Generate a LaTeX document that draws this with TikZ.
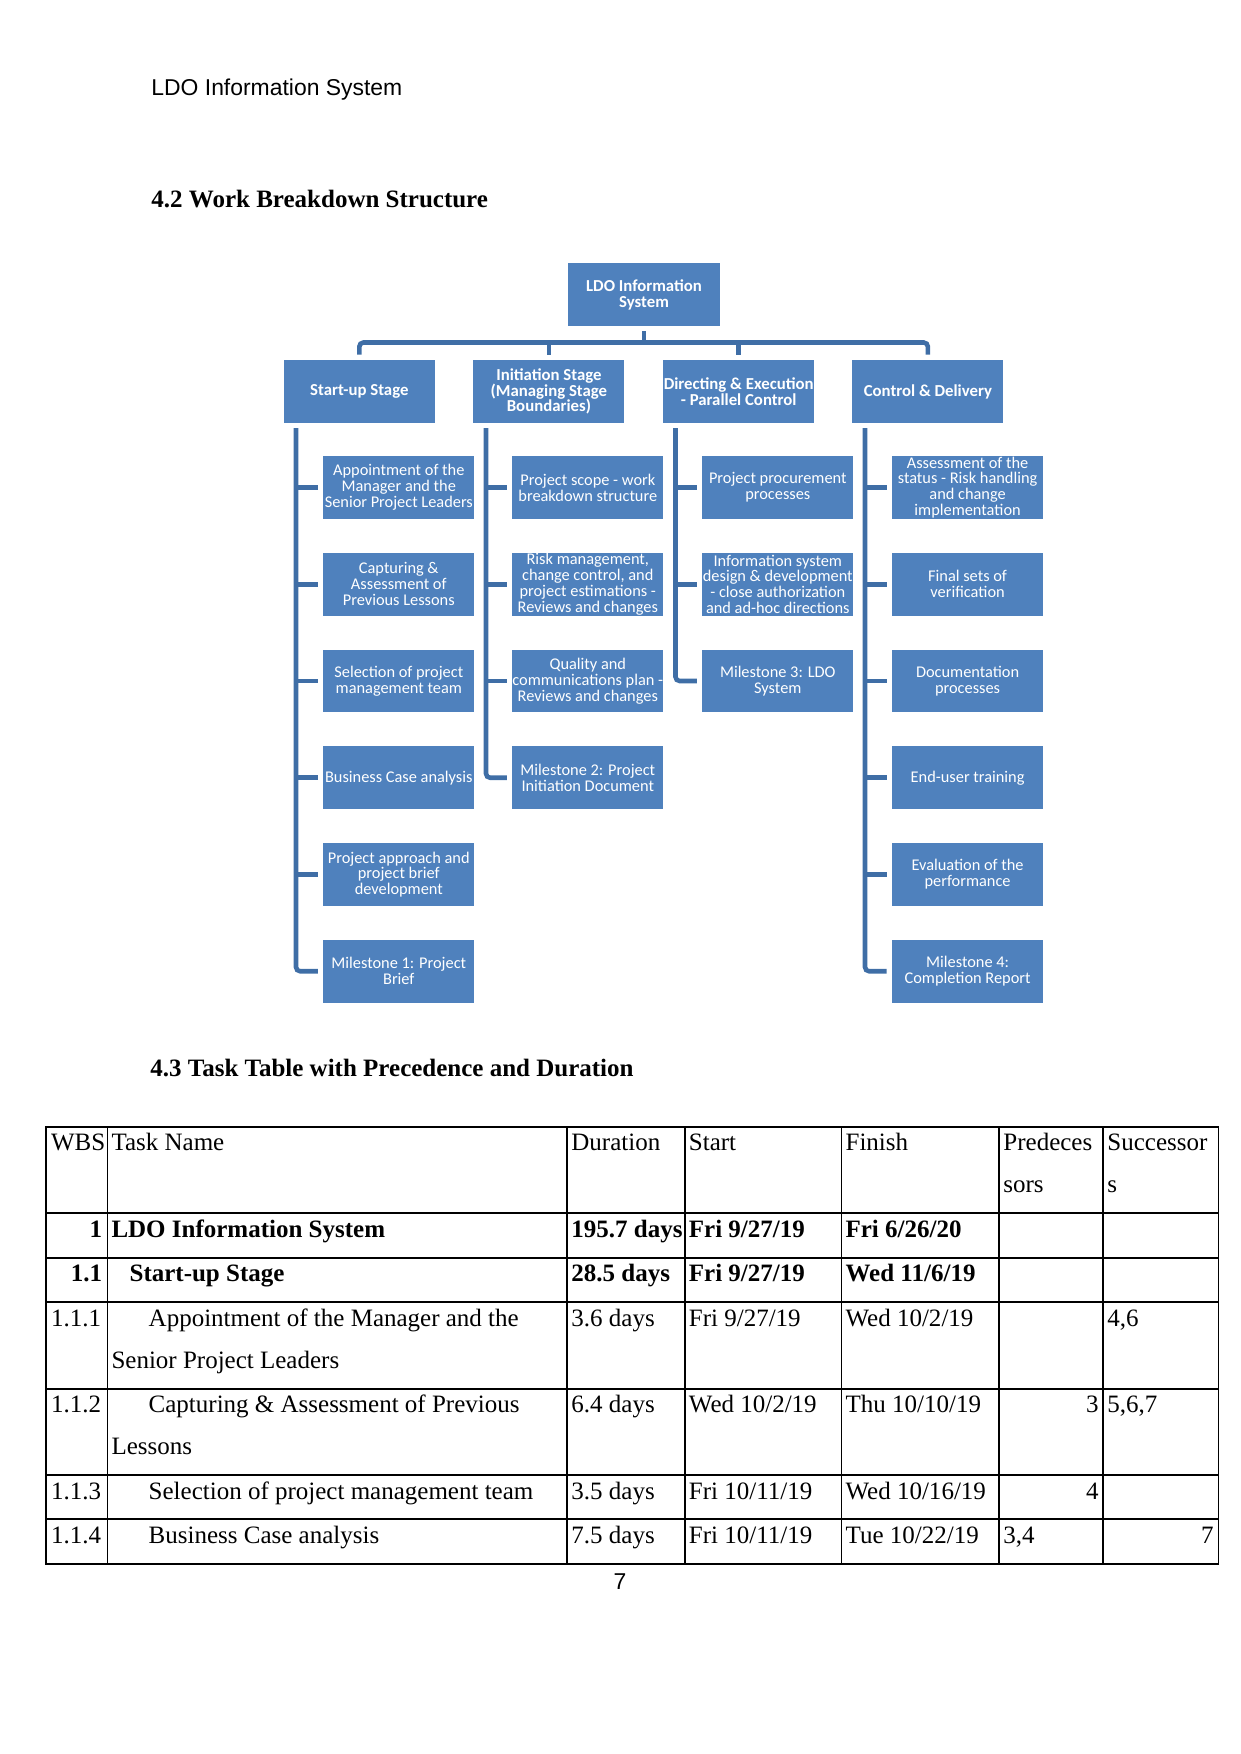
\documentclass[tikz,border=0pt]{standalone}
\usepackage{fontspec}
\setmainfont{Liberation Serif}
\newfontfamily\hdrsans{Liberation Sans}
\newfontfamily\boxfont{Carlito}
\definecolor{boxblue}{RGB}{79,129,189}
\definecolor{lineblue}{RGB}{63,110,166}
\begin{document}
\begin{tikzpicture}[x=0.48pt,y=-0.48pt,
 wbsbox/.style={fill=boxblue,text=white,inner sep=0pt,outer sep=2.64pt,minimum width=72.5pt,minimum height=30.2pt,align=center,font=\boxfont\fontsize{7.85}{7.6}\selectfont},
 stagebox/.style={wbsbox,font=\boxfont\bfseries\fontsize{8.05}{7.6}\selectfont},
 conn/.style={draw=lineblue,line width=2.2pt},
 cell/.style={anchor=base west,inner sep=0pt,font=\fontsize{12}{14}\selectfont},
 cellr/.style={anchor=base east,inner sep=0pt,font=\fontsize{12}{14}\selectfont},
 tabrule/.style={line width=0.85pt,line cap=rect}
]
\useasboundingbox (0,0) rectangle (1241,1754);

% page texts
\node[anchor=base west,inner sep=0pt,font=\hdrsans\fontsize{11}{13}\selectfont] (hdr) at (151,95) {LDO Information System};
\node[anchor=base west,inner sep=0pt,font=\bfseries\fontsize{12}{14}\selectfont] (h42) at (151,207.7) {4.2 Work Breakdown Structure};
\node[anchor=base west,inner sep=0pt,font=\bfseries\fontsize{12}{14}\selectfont] (h43) at (150,1076.7) {4.3 Task Table with Precedence and Duration};
\node[anchor=base,inner sep=0pt,font=\hdrsans\fontsize{11}{13}\selectfont] (pg) at (620,1589) {7};

% WBS boxes
\node[stagebox,minimum width=73pt] (root) at (644,294.5) {LDO Information\\System};
\node[stagebox] (s1) at (359.3,391.5) {Start-up Stage};
\node[stagebox] (s2) at (548.9,391.5) {Initiation Stage\\(Managing Stage\\Boundaries)};
\node[stagebox] (s3) at (738.7,391.5) {Directing \& Execution\\- Parallel Control};
\node[stagebox] (s4) at (927.9,391.5) {Control \& Delivery};

\node[wbsbox] (a1) at (398.8,487.5) {Appointment of the\\Manager and the\\Senior Project Leaders};
\node[wbsbox] (a2) at (398.8,584.25) {Capturing \&\\Assessment of\\Previous Lessons};
\node[wbsbox] (a3) at (398.8,681) {Selection of project\\management team};
\node[wbsbox] (a4) at (398.8,777.75) {Business Case analysis};
\node[wbsbox] (a5) at (398.8,874.5) {Project approach and\\project brief\\development};
\node[wbsbox] (a6) at (398.8,971.25) {Milestone 1: Project\\Brief};

\node[wbsbox] (b1) at (587.8,487.5) {Project scope - work\\breakdown structure};
\node[wbsbox] (b2) at (587.8,584.25) {Risk management,\\change control, and\\project estimations -\\Reviews and changes};
\node[wbsbox] (b3) at (587.8,681) {Quality and\\communications plan -\\Reviews and changes};
\node[wbsbox] (b4) at (587.8,777.75) {Milestone 2: Project\\Initiation Document};

\node[wbsbox] (c1) at (777.8,487.5) {Project procurement\\processes};
\node[wbsbox] (c2) at (777.8,584.25) {Information system\\design \& development\\- close authorization\\and ad-hoc directions};
\node[wbsbox] (c3) at (777.8,681) {Milestone 3: LDO\\System};

\node[wbsbox] (d1) at (967.6,487.5) {Assessment of the\\status - Risk handling\\and change\\implementation};
\node[wbsbox] (d2) at (967.6,584.25) {Final sets of\\verification};
\node[wbsbox] (d3) at (967.6,681) {Documentation\\processes};
\node[wbsbox] (d4) at (967.6,777.75) {End-user training};
\node[wbsbox] (d5) at (967.6,874.5) {Evaluation of the\\performance};
\node[wbsbox] (d6) at (967.6,971.25) {Milestone 4:\\Completion Report};

% connectors
\coordinate (bar) at (644,342.5);
\draw[conn,rounded corners=2pt] (s1.north) |- (bar) -| (s4.north);
\draw[conn] (root.south) -- (bar);
\draw[conn] (s2.north) -- (s2.north |- bar);
\draw[conn] (s3.north) -- (s3.north |- bar);

\coordinate (v1) at (296,428.2);
\coordinate (v2) at (486,428.2);
\coordinate (v3) at (675.5,428.2);
\coordinate (v4) at (865,428.2);

\draw[conn,rounded corners=2pt] (v1) |- (a6.west);
\foreach \n in {a1,a2,a3,a4,a5} \draw[conn] (v1 |- \n.west) -- (\n.west);
\draw[conn,rounded corners=2pt] (v2) |- (b4.west);
\foreach \n in {b1,b2,b3} \draw[conn] (v2 |- \n.west) -- (\n.west);
\draw[conn,rounded corners=2pt] (v3) |- (c3.west);
\foreach \n in {c1,c2} \draw[conn] (v3 |- \n.west) -- (\n.west);
\draw[conn,rounded corners=2pt] (v4) |- (d6.west);
\foreach \n in {d1,d2,d3,d4,d5} \draw[conn] (v4 |- \n.west) -- (\n.west);

% table grid
\foreach \yy in {1126.7,1213.3,1257.7,1302.3,1388.7,1475.3,1519.3,1564.3}
  \draw[tabrule] (45.9,\yy) -- (1218.6,\yy);
\foreach \xx in {45.9,107.4,567.3,684.8,841.5,999.3,1103.3,1218.6}
  \draw[tabrule] (\xx,1126.7) -- (\xx,1564.3);

% header row
\node[cell] (th1) at (50.7,1150.4) {WBS};
\node[cell] (th2) at (111.1,1150.4) {Task Name};
\node[cell] (th3) at (571,1150.4) {Duration};
\node[cell] (th4) at (688.5,1150.4) {Start};
\node[cell] (th5) at (845.2,1150.4) {Finish};
\node[cell] (th6) at (1003,1150.4) {Predeces};
\node[cell] (th6b) at (1003,1192.4) {sors};
\node[cell] (th7) at (1107,1150.4) {Successor};
\node[cell] (th7b) at (1107,1192.4) {s};

% row 1
\node[cellr] (r1a) at (102.5,1237) {\bfseries 1};
\node[cell] (r1b) at (111.1,1237) {\bfseries LDO Information System};
\node[cell] (r1c) at (571,1237) {\bfseries 195.7 days};
\node[cell] (r1d) at (688.5,1237) {\bfseries Fri 9/27/19};
\node[cell] (r1e) at (845.2,1237) {\bfseries Fri 6/26/20};

% row 1.1
\node[cellr] (r2a) at (102.5,1281.4) {\bfseries 1.1};
\node[cell] (r2b) at (129.2,1281.4) {\bfseries Start-up Stage};
\node[cell] (r2c) at (571,1281.4) {\bfseries 28.5 days};
\node[cell] (r2d) at (688.5,1281.4) {\bfseries Fri 9/27/19};
\node[cell] (r2e) at (845.2,1281.4) {\bfseries Wed 11/6/19};

% row 1.1.1
\node[cell] (r3a) at (50.7,1326) {1.1.1};
\node[cell] (r3b) at (148.3,1326) {Appointment of the Manager and the};
\node[cell] (r3b2) at (111.1,1368) {Senior Project Leaders};
\node[cell] (r3c) at (571,1326) {3.6 days};
\node[cell] (r3d) at (688.5,1326) {Fri 9/27/19};
\node[cell] (r3e) at (845.2,1326) {Wed 10/2/19};
\node[cell] (r3g) at (1107,1326) {4,6};

% row 1.1.2
\node[cell] (r4a) at (50.7,1412.4) {1.1.2};
\node[cell] (r4b) at (148.3,1412.4) {Capturing \& Assessment of Previous};
\node[cell] (r4b2) at (111.1,1454.4) {Lessons};
\node[cell] (r4c) at (571,1412.4) {6.4 days};
\node[cell] (r4d) at (688.5,1412.4) {Wed 10/2/19};
\node[cell] (r4e) at (845.2,1412.4) {Thu 10/10/19};
\node[cellr] (r4f) at (1099,1412.4) {3};
\node[cell] (r4g) at (1107,1412.4) {5,6,7};

% row 1.1.3
\node[cell] (r5a) at (50.7,1499) {1.1.3};
\node[cell] (r5b) at (148.3,1499) {Selection of project management team};
\node[cell] (r5c) at (571,1499) {3.5 days};
\node[cell] (r5d) at (688.5,1499) {Fri 10/11/19};
\node[cell] (r5e) at (845.2,1499) {Wed 10/16/19};
\node[cellr] (r5f) at (1099,1499) {4};

% row 1.1.4
\node[cell] (r6a) at (50.7,1543) {1.1.4};
\node[cell] (r6b) at (148.3,1543) {Business Case analysis};
\node[cell] (r6c) at (571,1543) {7.5 days};
\node[cell] (r6d) at (688.5,1543) {Fri 10/11/19};
\node[cell] (r6e) at (845.2,1543) {Tue 10/22/19};
\node[cell] (r6f) at (1003,1543) {3,4};
\node[cellr] (r6g) at (1214,1543) {7};
\end{tikzpicture}
\end{document}
